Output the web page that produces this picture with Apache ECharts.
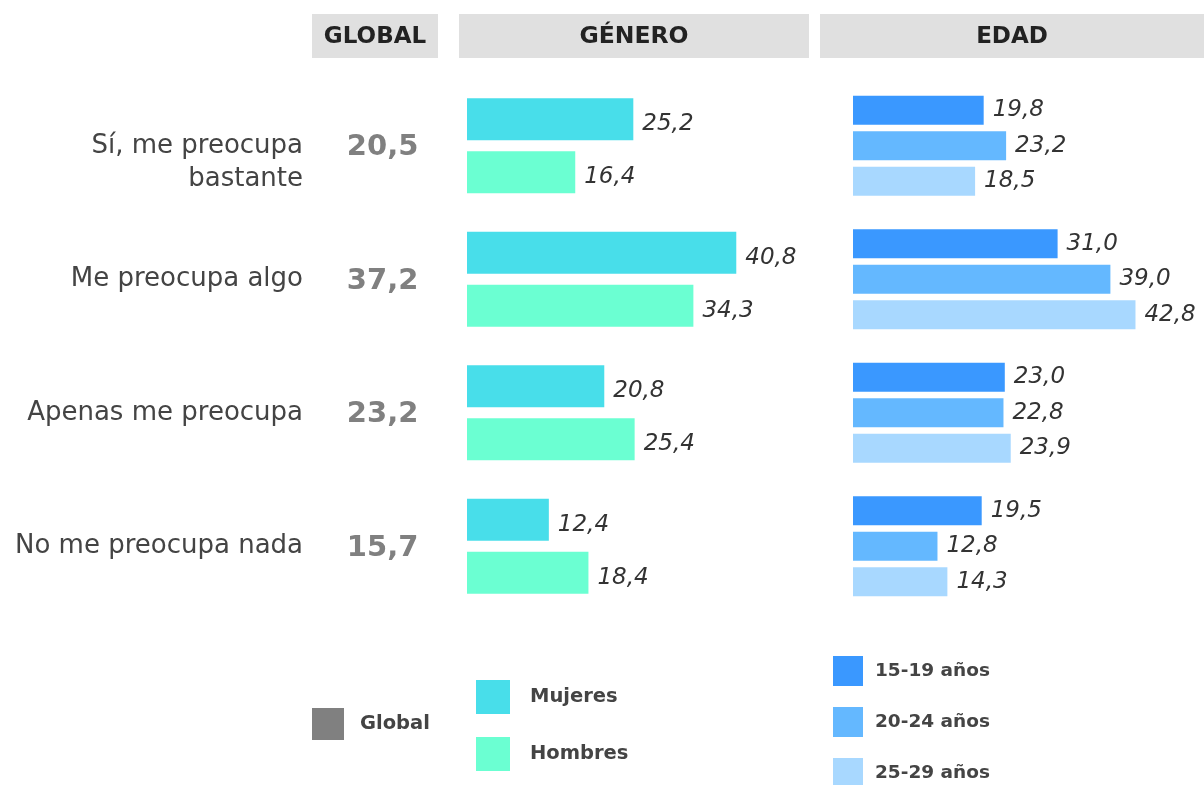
<!DOCTYPE html>
<html>
<head>
<meta charset="utf-8">
<script src="https://cdn.jsdelivr.net/npm/echarts@6/dist/echarts.min.js"></script>
<style>
  html, body { margin: 0; padding: 0; background: #fff; }
  #main { width: 1204px; height: 785px; }
</style>
</head>
<body>
<div id="main"></div>
<script>
// filas
const rows = ['Sí, me preocupa\nbastante', 'Me preocupa algo', 'Apenas me preocupa', 'No me preocupa nada'];
const globalVals = [20.5, 37.2, 23.2, 15.7];
const mujeres = [25.2, 40.8, 20.8, 12.4];
const hombres = [16.4, 34.3, 25.4, 18.4];
const edad1519 = [19.8, 31.0, 23.0, 19.5];
const edad2024 = [23.2, 39.0, 22.8, 12.8];
const edad2529 = [18.5, 42.8, 23.9, 14.3];
const headers = ['GLOBAL', 'GÉNERO', 'EDAD'];

const FONT = 'DejaVu Sans';
const fmt = v => v.toFixed(1).replace('.', ',');

const valueLabel = (dy) => ({
  show: true,
  position: 'right',
  distance: 9,
  offset: [0, dy],
  fontFamily: FONT,
  fontStyle: 'italic',
  fontSize: 23,
  color: '#333',
  formatter: p => fmt(p.value)
});

const chart = echarts.init(document.getElementById('main'));

const catAxis = (idx, showLabel) => ({
  type: 'category',
  gridIndex: idx,
  data: rows,
  inverse: true,
  axisLine: { show: false },
  axisTick: { show: false },
  axisLabel: showLabel ? {
    show: true, margin: 9, fontFamily: FONT, fontSize: 26, color: '#444', lineHeight: 33, align: 'right',
    padding: [4, 0, 0, 0],
    // la etiqueta de dos lineas baja una linea
    formatter: (v, i) => i === 0 ? '\n' + v : v
  } : { show: false }
});
const valAxis = (idx, max) => ({
  type: 'value', gridIndex: idx, min: 0, max: max, show: false, splitLine: { show: false }
});

const headerBox = (x, w, text, size) => ({
  type: 'group',
  children: [
    { type: 'rect', shape: { x: x, y: 14, width: w, height: 44 }, style: { fill: '#e0e0e0' } },
    { type: 'text', x: x + w / 2, y: 37, style: {
      text: text, align: 'center', verticalAlign: 'middle',
      font: 'bold ' + size + 'px "' + FONT + '"', fill: '#222'
    } }
  ]
});

const legendText = { fontFamily: FONT, fontWeight: 'bold', fontSize: 18.5, color: '#444' };

chart.setOption({
  animation: false,
  grid: [
    { left: 312, top: 79, width: 126, height: 534 },
    { left: 467, top: 79, width: 330, height: 534 },
    { left: 853, top: 79, width: 330, height: 534 }
  ],
  xAxis: [valAxis(0, 1), valAxis(1, 50), valAxis(2, 50)],
  yAxis: [catAxis(0, true), catAxis(1, false), catAxis(2, false)],
  graphic: [
    headerBox(312, 126, headers[0], 23),
    headerBox(459, 350, headers[1], 23.5),
    headerBox(820, 384, headers[2], 23)
  ],
  legend: [
    {
      data: ['Global'], orient: 'vertical', left: 312, top: 708, padding: 0,
      itemWidth: 32, itemHeight: 32, icon: 'rect',
      textStyle: Object.assign({ padding: [0, 0, 0, 11] }, legendText, { fontSize: 19.5 })
    },
    {
      data: ['Mujeres', 'Hombres'], orient: 'vertical', left: 476, top: 680, padding: 0,
      itemWidth: 34, itemHeight: 34, itemGap: 23, icon: 'rect',
      textStyle: Object.assign({ padding: [0, 0, 0, 15] }, legendText, { fontSize: 19.5 })
    },
    {
      data: ['15-19 años', '20-24 años', '25-29 años'], orient: 'vertical', left: 833, top: 656,
      height: 200, padding: 0,
      itemWidth: 30, itemHeight: 30, itemGap: 21, icon: 'rect',
      textStyle: Object.assign({ padding: [0, 0, 0, 7] }, legendText)
    }
  ],
  series: [
    {
      name: 'Global', type: 'scatter', xAxisIndex: 0, yAxisIndex: 0,
      symbolSize: 0, itemStyle: { color: '#808080', opacity: 1 },
      data: globalVals.map((v, i) => [0.56, i, v]),
      label: {
        show: true, position: 'inside', offset: [0, 2], fontFamily: FONT, fontWeight: 'bold', fontSize: 29, color: '#808080',
        formatter: p => fmt(p.value[2])
      }
    },
    {
      name: 'Mujeres', type: 'bar', xAxisIndex: 1, yAxisIndex: 1,
      barWidth: 42, barGap: '26%', itemStyle: { color: '#48deea' },
      data: mujeres, label: valueLabel(5)
    },
    {
      name: 'Hombres', type: 'bar', xAxisIndex: 1, yAxisIndex: 1,
      barWidth: 42, barGap: '26%', itemStyle: { color: '#6bffd2' },
      data: hombres, label: valueLabel(5)
    },
    {
      name: '15-19 años', type: 'bar', xAxisIndex: 2, yAxisIndex: 2,
      barWidth: 29, barGap: '22%', itemStyle: { color: '#3a98ff' },
      data: edad1519, label: valueLabel(0)
    },
    {
      name: '20-24 años', type: 'bar', xAxisIndex: 2, yAxisIndex: 2,
      barWidth: 29, barGap: '22%', itemStyle: { color: '#64b8ff' },
      data: edad2024, label: valueLabel(0)
    },
    {
      name: '25-29 años', type: 'bar', xAxisIndex: 2, yAxisIndex: 2,
      barWidth: 29, barGap: '22%', itemStyle: { color: '#a8d8ff' },
      data: edad2529, label: valueLabel(0)
    }
  ]
});
</script>
</body>
</html>
